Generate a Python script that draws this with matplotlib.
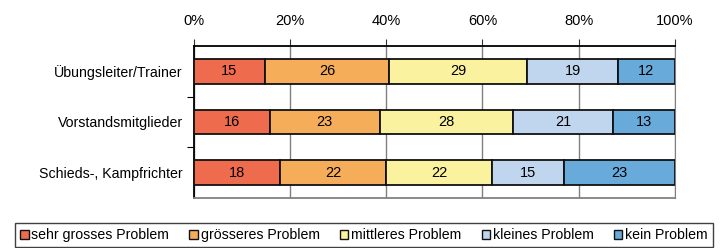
import matplotlib.pyplot as plt
from matplotlib.patches import Patch

plt.rcParams['font.family'] = ['Liberation Sans', 'DejaVu Sans']

categories = ['Übungsleiter/Trainer', 'Vorstandsmitglieder', 'Schieds-, Kampfrichter']
series = ['sehr grosses Problem', 'grösseres Problem', 'mittleres Problem',
          'kleines Problem', 'kein Problem']
values = [
    [15, 16, 18],
    [26, 23, 22],
    [29, 28, 22],
    [19, 21, 15],
    [12, 13, 23],
]
colors = ['#EE6B4D', '#F6AD5A', '#FAF29E', '#C0D6EE', '#68ABDA']
ticks = [0, 20, 40, 60, 80, 100]

fig = plt.figure(figsize=(7.2, 2.48), dpi=100)
ax = fig.add_axes([0.269, 0.2016, 0.6685, 0.613])

ypos = list(range(len(categories)))
left = [0] * len(categories)
for vals, col, name in zip(values, colors, series):
    tot = [sum(v[i] for v in values) for i in range(len(categories))]
    widths = [v / t * 100 for v, t in zip(vals, tot)]
    bars = ax.barh(ypos, widths, left=left, height=0.49, color=col,
                   edgecolor='#111111', linewidth=1.3, label=name, zorder=3)
    for b, v in zip(bars, vals):
        ax.text(b.get_x() + b.get_width() / 2, b.get_y() + b.get_height() / 2,
                str(v), ha='center', va='center', fontsize=10.5, zorder=4)
    left = [l + w for l, w in zip(left, widths)]

ax.set_xlim(0, 100)
ax.set_ylim(2.5, -0.5)
ax.xaxis.tick_top()
ax.set_xticks(ticks)
ax.set_xticklabels([f'{t}%' for t in ticks], fontsize=10.5)
ax.tick_params(axis='x', length=5, width=0.8, color='#333333', pad=8)
ax.grid(axis='x', color='#808080', linewidth=1.0, zorder=0)

ax.set_yticks(ypos)
ax.set_yticklabels(categories, fontsize=10.2)
ax.tick_params(axis='y', length=0, pad=8)
ax.set_yticks([0.5, 1.5], minor=True)
ax.tick_params(axis='y', which='minor', length=5, width=0.8)

ax.spines['top'].set_linewidth(1.3)
ax.spines['left'].set_linewidth(1.3)
ax.spines['right'].set_color('#808080')
ax.spines['bottom'].set_color('#808080')
ax.spines['bottom'].set_linewidth(1.3)

handles = [Patch(facecolor=c, edgecolor='#111111', linewidth=1.0) for c in colors]
leg = fig.legend(handles, series, loc='upper left',
                 bbox_to_anchor=(0.021, 0.0, 0.969, 0.10), mode='expand',
                 ncol=5, fontsize=10.2, frameon=True, fancybox=False,
                 handlelength=0.6, handleheight=0.6, handletextpad=0.2,
                 columnspacing=0.6, borderpad=0.35, borderaxespad=0)
leg.get_frame().set_edgecolor('#111111')
leg.get_frame().set_linewidth(1.0)

fig.savefig('out.png', dpi=100)
